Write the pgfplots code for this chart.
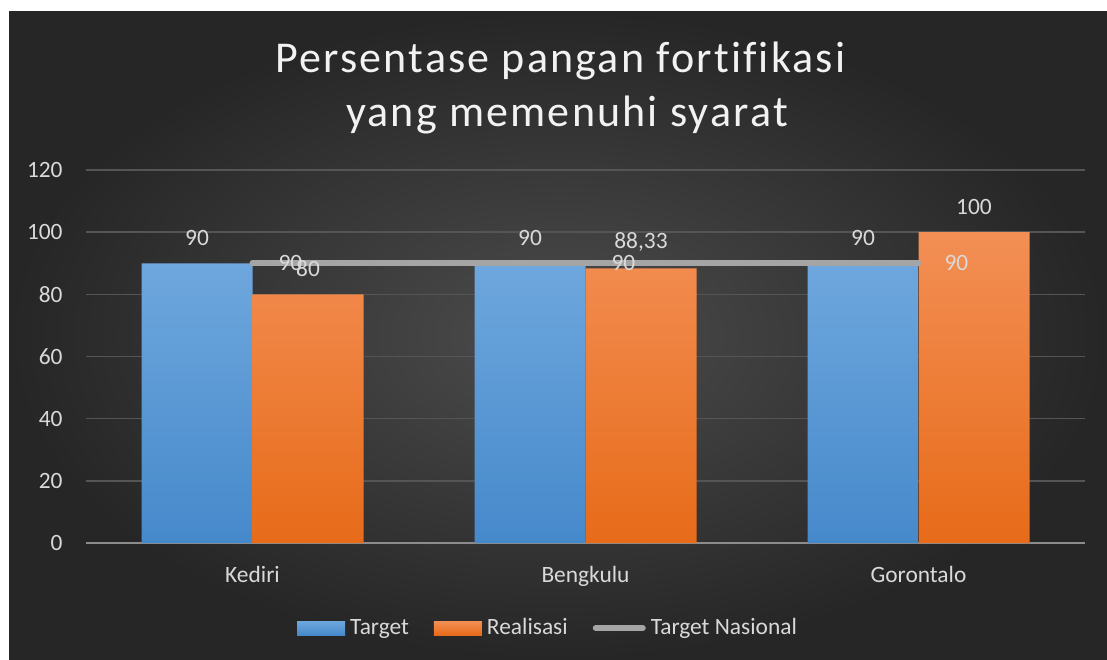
\documentclass[border=0pt]{standalone}
\usepackage{fontspec}
\setmainfont{Carlito}
\newfontfamily\titlefont[LetterSpace=5, Ligatures={NoCommon, NoRare}]{Carlito}
\usepackage{pgfplots}
\pgfplotsset{compat=1.18}

\definecolor{bgin}{HTML}{4C4C4C}
\definecolor{bgout}{HTML}{262626}
\definecolor{txt}{HTML}{D9D9D9}
\definecolor{titletxt}{HTML}{F2F2F2}
\definecolor{gridc}{HTML}{555555}
\definecolor{axisc}{HTML}{8C8C8C}
\definecolor{bluetop}{HTML}{6EA7DD}
\definecolor{bluebot}{HTML}{4689CB}
\definecolor{orgtop}{HTML}{F38F55}
\definecolor{orgbot}{HTML}{E76B19}
\definecolor{natline}{HTML}{A5A5A5}

\begin{document}
\begin{tikzpicture}
% page: 1107 x 659 px, 1 px = 0.5pt
\fill[white] (0,0) rectangle (553.5pt,329.5pt);
\shade[inner color=bgin, outer color=bgout] (4.5pt,0) rectangle (553.5pt,323.5pt);

\node[anchor=base, text=titletxt, font=\titlefont\fontsize{22}{26}\selectfont, inner sep=0]
  at (280.25pt,293pt) {Persentase pangan fortifikasi};
\node[anchor=base, text=titletxt, font=\titlefont\fontsize{22}{26}\selectfont, inner sep=0]
  at (283.5pt,266pt) {yang memenuhi syarat};

\begin{axis}[
    at={(43pt,58pt)}, anchor=south west,
    scale only axis,
    width=499.5pt, height=186.5pt,
    xmin=-0.5, xmax=2.5,
    ymin=0, ymax=120,
    ytick={0,20,...,120},
    xtick={0,1,2},
    xticklabels={Kediri,Bengkulu,Gorontalo},
    major tick length=0pt,
    ymajorgrids,
    grid style={gridc, line width=0.75pt},
    axis x line*=bottom,
    axis y line*=left,
    x axis line style={axisc, line width=1pt, -},
    y axis line style={draw=none},
    /pgf/number format/assume math mode=true,
    ticklabel style={text=txt, font=\fontsize{11.7}{14}\selectfont, inner sep=0pt},
    yticklabel style={xshift=-11.5pt},
    xticklabel style={yshift=-11.5pt},
    legend columns=-1,
    legend style={
        at={(rel axis cs:0.464,-0.228)}, anchor=center,
        draw=none, fill=none,
        font=\fontsize{11.7}{14}\selectfont, text=txt,
        /tikz/every even column/.append style={column sep=10pt},
        nodes={inner xsep=2.5pt, inner ysep=0pt},
    },
    every node near coord/.append style={text=txt, font=\fontsize{11.7}{14}\selectfont, inner sep=0pt},
]
\addplot[ybar, bar width=55.5pt, bar shift=-27.75pt, draw=none,
    top color=bluetop, bottom color=bluebot,
    nodes near coords, nodes near coords style={anchor=south, yshift=8.5pt, xshift=-27.75pt},
    legend image code/.code={\shade[top color=bluetop, bottom color=bluebot] (0pt,-3.5pt) rectangle (24pt,3.5pt);}]
  coordinates {(0,90) (1,90) (2,90)};
\addlegendentry{Target}
\addplot[ybar, bar width=55.5pt, bar shift=27.75pt, draw=none,
    top color=orgtop, bottom color=orgbot,
    nodes near coords={\pgfmathprintnumber[use comma, precision=2]{\pgfplotspointmeta}},
    nodes near coords style={anchor=south, yshift=8.5pt, xshift=27.75pt},
    legend image code/.code={\shade[top color=orgtop, bottom color=orgbot] (0pt,-3.5pt) rectangle (24pt,3.5pt);}]
  coordinates {(0,80) (1,88.33) (2,100)};
\addlegendentry{Realisasi}
\addplot[natline, line width=3pt, line cap=round, mark=none,
    nodes near coords, nodes near coords style={anchor=west, xshift=11.5pt},
    legend image code/.code={\draw[natline, line width=3pt, line cap=round] (1.5pt,0) -- (25pt,0);}]
  coordinates {(0,90) (1,90) (2,90)};
\addlegendentry{Target Nasional}
\end{axis}
\end{tikzpicture}
\end{document}
